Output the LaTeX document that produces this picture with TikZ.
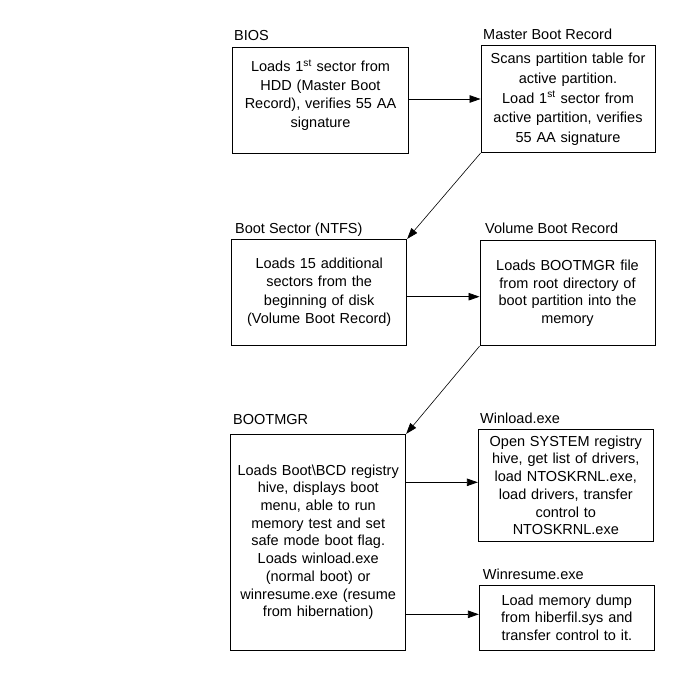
\documentclass[tikz,border=0pt]{standalone}
\usepackage{fontspec}
\setmainfont{Liberation Sans}
\usetikzlibrary{arrows.meta}
\begin{document}
\begin{tikzpicture}[x=1pt,y=-1pt,
  every node/.style={font=\fontsize{14.5}{17.7}\selectfont},
  box/.style={draw=black,line width=0.9pt,rectangle,inner sep=0pt,align=center,text width=170pt},
  txt/.style={inner sep=0pt,align=center,text width=170pt},
  lbl/.style={inner sep=0pt,anchor=base west},
  arr/.style={draw=black,line width=0.8pt,-{Triangle[length=11pt,width=7.5pt]}},
  conn/.style={draw=black,line width=0.6pt,-{Triangle[length=11pt,width=7.5pt]}}]
\useasboundingbox (0,0) rectangle (685,695);
\fill[white] (0,0) rectangle (685,695);

\node[box,minimum width=175.6pt,minimum height=105.6pt] (bios) at (320.5,100.5) {};
\node[txt,font=\fontsize{14.5}{18.7}\selectfont] (biostext) at ([yshift=5.5pt]bios.center)
  {Loads 1\textsuperscript{st} sector from\\HDD (Master Boot\\Record), verifies 55 AA\\signature};
\node[box,minimum width=174pt,minimum height=106.7pt,font=\fontsize{14.5}{19.8}\selectfont] (mbr) at (568,99.3)
  {Scans partition table for\\active partition.\\Load 1\textsuperscript{st} sector from\\active partition, verifies\\55 AA signature};
\node[box,minimum width=175pt,minimum height=105.7pt,font=\fontsize{14.5}{18.3}\selectfont] (boot) at (319.2,292.2)
  {Loads 15 additional\\sectors from the\\beginning of disk\\(Volume Boot Record)};
\node[box,minimum width=175pt,minimum height=105pt] (vbr) at (567.5,293.2)
  {Loads BOOTMGR file\\from root directory of\\boot partition into the\\memory};
\node[box,minimum width=175pt,minimum height=215.7pt] (bootmgr) at (318.2,542.2)
  {Loads Boot\textbackslash BCD registry\\hive, displays boot\\menu, able to run\\memory test and set\\safe mode boot flag.\\Loads winload.exe\\(normal boot) or\\winresume.exe (resume\\from hibernation)};
\node[box,minimum width=175pt,minimum height=112.7pt] (winload) at (565.8,485.3)
  {Open SYSTEM registry\\hive, get list of drivers,\\load NTOSKRNL.exe,\\load drivers, transfer\\control to\\NTOSKRNL.exe};
\node[box,minimum width=175pt,minimum height=64.3pt] (winresume) at (566.8,617.8)
  {Load memory dump\\from hiberfil.sys and\\transfer control to it.};

\node[lbl] (lbios) at (234,40.2) {BIOS};
\node[lbl] (lmbr) at (483,39.2) {Master Boot Record};
\node[lbl] (lboot) at (235,233.2) {Boot Sector (NTFS)};
\node[lbl] (lvbr) at (485,233.2) {Volume Boot Record};
\node[lbl] (lbootmgr) at (233,424.2) {BOOTMGR};
\node[lbl] (lwinload) at (480,423.2) {Winload.exe};
\node[lbl] (lwinresume) at (482.7,579.2) {Winresume.exe};

\draw[arr] ([yshift=1.5pt]bios.east) -- ([yshift=1.5pt]bios.east -| mbr.west);
\draw[conn] (mbr.south west) -- (boot.north east);
\draw[arr] ([yshift=-4.5pt]boot.east) -- ([yshift=-4.5pt]boot.east -| vbr.west);
\draw[conn] (vbr.south west) -- (bootmgr.north east);
\draw[arr] ([yshift=59.9pt]bootmgr.east) -- ([yshift=59.9pt]bootmgr.east -| winload.west);
\draw[arr] ([yshift=-72.1pt]bootmgr.east) -- ([yshift=-72.1pt]bootmgr.east -| winresume.west);
\end{tikzpicture}
\end{document}
